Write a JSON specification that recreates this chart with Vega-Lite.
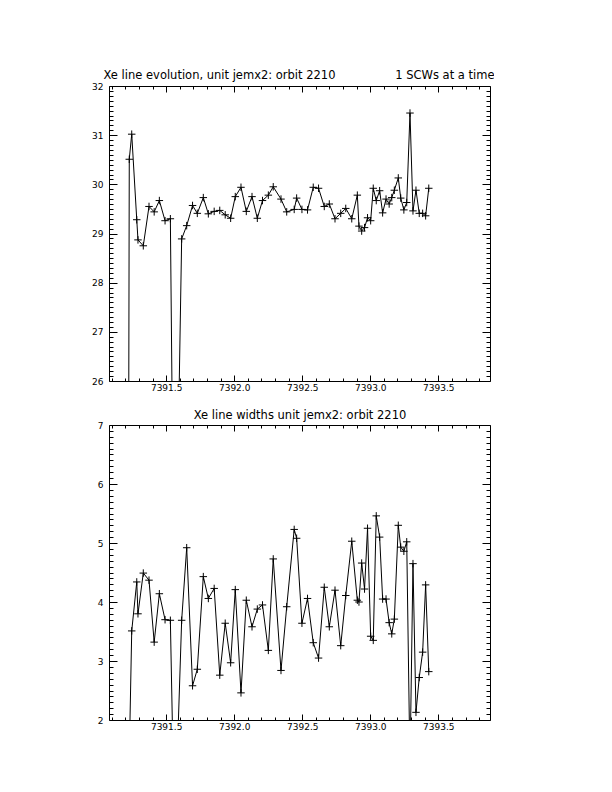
{
  "$schema": "https://vega.github.io/schema/vega-lite/v6.json",
  "background": "white",
  "padding": 0,
  "datasets": {
    "d": [
      {"x": 7391.205, "evo": 0, "wid": 0},
      {"x": 7391.229, "evo": 30.51, "wid": 1.37},
      {"x": 7391.247, "evo": 31.02, "wid": 3.51},
      {"x": 7391.284, "evo": 29.28, "wid": 4.34},
      {"x": 7391.293, "evo": 28.87, "wid": 3.80},
      {"x": 7391.332, "evo": 28.75, "wid": 4.49},
      {"x": 7391.374, "evo": 29.55, "wid": 4.37},
      {"x": 7391.412, "evo": 29.44, "wid": 3.32},
      {"x": 7391.450, "evo": 29.67, "wid": 4.14},
      {"x": 7391.492, "evo": 29.26, "wid": 3.70},
      {"x": 7391.531, "evo": 29.30, "wid": 3.69},
      {"x": 7391.562, "evo": 20.3, "wid": 0},
      {"x": 7391.614, "evo": 28.89, "wid": 3.69},
      {"x": 7391.651, "evo": 29.16, "wid": 4.92},
      {"x": 7391.694, "evo": 29.57, "wid": 2.58},
      {"x": 7391.729, "evo": 29.41, "wid": 2.86},
      {"x": 7391.773, "evo": 29.73, "wid": 4.43},
      {"x": 7391.810, "evo": 29.40, "wid": 4.06},
      {"x": 7391.853, "evo": 29.45, "wid": 4.23},
      {"x": 7391.894, "evo": 29.47, "wid": 2.76},
      {"x": 7391.934, "evo": 29.38, "wid": 3.64},
      {"x": 7391.974, "evo": 29.31, "wid": 2.97},
      {"x": 7392.008, "evo": 29.75, "wid": 4.21},
      {"x": 7392.050, "evo": 29.94, "wid": 2.46},
      {"x": 7392.089, "evo": 29.45, "wid": 4.03},
      {"x": 7392.131, "evo": 29.75, "wid": 3.58},
      {"x": 7392.170, "evo": 29.31, "wid": 3.88},
      {"x": 7392.208, "evo": 29.67, "wid": 3.95},
      {"x": 7392.251, "evo": 29.78, "wid": 3.18},
      {"x": 7392.287, "evo": 29.95, "wid": 4.73},
      {"x": 7392.344, "evo": 29.70, "wid": 2.84},
      {"x": 7392.386, "evo": 29.44, "wid": 3.92},
      {"x": 7392.441, "evo": 29.49, "wid": 5.23},
      {"x": 7392.459, "evo": 29.72, "wid": 5.08},
      {"x": 7392.498, "evo": 29.49, "wid": 3.64},
      {"x": 7392.539, "evo": 29.48, "wid": 4.06},
      {"x": 7392.581, "evo": 29.94, "wid": 3.31},
      {"x": 7392.620, "evo": 29.92, "wid": 3.05},
      {"x": 7392.662, "evo": 29.55, "wid": 4.25},
      {"x": 7392.699, "evo": 29.60, "wid": 3.58},
      {"x": 7392.741, "evo": 29.30, "wid": 4.20},
      {"x": 7392.783, "evo": 29.41, "wid": 3.26},
      {"x": 7392.820, "evo": 29.51, "wid": 4.11},
      {"x": 7392.864, "evo": 29.30, "wid": 5.03},
      {"x": 7392.905, "evo": 29.78, "wid": 4.03},
      {"x": 7392.917, "evo": 29.15, "wid": 4.00},
      {"x": 7392.937, "evo": 29.05, "wid": 4.66},
      {"x": 7392.958, "evo": 29.12, "wid": 4.22},
      {"x": 7392.980, "evo": 29.32, "wid": 5.25},
      {"x": 7393.003, "evo": 29.26, "wid": 3.42},
      {"x": 7393.022, "evo": 29.92, "wid": 3.35},
      {"x": 7393.044, "evo": 29.67, "wid": 5.46},
      {"x": 7393.069, "evo": 29.87, "wid": 5.10},
      {"x": 7393.091, "evo": 29.42, "wid": 4.05},
      {"x": 7393.116, "evo": 29.70, "wid": 4.05},
      {"x": 7393.139, "evo": 29.60, "wid": 3.65},
      {"x": 7393.158, "evo": 29.73, "wid": 3.46},
      {"x": 7393.177, "evo": 29.88, "wid": 3.71},
      {"x": 7393.206, "evo": 30.13, "wid": 5.30},
      {"x": 7393.224, "evo": 29.72, "wid": 4.93},
      {"x": 7393.247, "evo": 29.48, "wid": 4.86},
      {"x": 7393.268, "evo": 29.63, "wid": 5.02},
      {"x": 7393.292, "evo": 31.45, "wid": 1.2},
      {"x": 7393.314, "evo": 29.46, "wid": 4.65},
      {"x": 7393.336, "evo": 29.88, "wid": 2.13},
      {"x": 7393.360, "evo": 29.41, "wid": 2.72},
      {"x": 7393.385, "evo": 29.41, "wid": 3.15},
      {"x": 7393.407, "evo": 29.36, "wid": 4.29},
      {"x": 7393.430, "evo": 29.92, "wid": 2.82}
    ]
  },
  "vconcat": [
    {
      "width": 381,
      "height": 295,
      "data": {"name": "d"},
      "layer": [
        {
          "mark": {"type": "line", "color": "black", "strokeWidth": 1, "clip": true},
          "encoding": {
            "x": {"field": "x", "type": "quantitative", "scale": {"domain": [7391.08, 7393.88], "nice": false, "zero": false},
              "axis": {"orient": "bottom", "values": [7391.5, 7392, 7392.5, 7393, 7393.5], "format": ".1f", "tickSize": -6, "labelPadding": 8.5, "title": null, "labelOverlap": false, "labelFlush": false}},
            "y": {"field": "evo", "type": "quantitative", "scale": {"domain": [26, 32], "nice": false, "zero": false},
              "axis": {"orient": "left", "values": [26, 27, 28, 29, 30, 31, 32], "format": "d", "tickSize": -8, "labelPadding": 14, "title": null, "labelOverlap": false, "labelFlush": false}}
          }
        },
        {
          "mark": {"type": "point", "shape": "M-1,0L1,0M0,-1L0,1", "size": 56, "filled": false, "color": "black", "strokeWidth": 1, "opacity": 1, "clip": true},
          "encoding": {
            "x": {"field": "x", "type": "quantitative", "scale": {"domain": [7391.08, 7393.88], "nice": false, "zero": false},
              "axis": {"orient": "top", "values": [7391.5, 7392, 7392.5, 7393, 7393.5], "labels": false, "tickSize": -6,
                "title": "Xe line evolution, unit jemx2: orbit 2210", "titleX": -6, "titleY": -7.5, "titleAlign": "left", "titleBaseline": "alphabetic", "titleAngle": 0}},
            "y": {"field": "evo", "type": "quantitative", "scale": {"domain": [26, 32], "nice": false, "zero": false},
              "axis": {"orient": "right", "values": [26, 27, 28, 29, 30, 31, 32], "labels": false, "tickSize": -8, "title": null}}
          }
        },
        {
          "mark": {"type": "point", "opacity": 0, "clip": true},
          "encoding": {
            "x": {"field": "x", "type": "quantitative", "scale": {"domain": [7391.08, 7393.88], "nice": false, "zero": false},
              "axis": {"orient": "bottom", "values": [7391.1, 7391.2, 7391.3, 7391.4, 7391.6, 7391.7, 7391.8, 7391.9, 7392.1, 7392.2, 7392.3, 7392.4, 7392.6, 7392.7, 7392.8, 7392.9, 7393.1, 7393.2, 7393.3, 7393.4, 7393.6, 7393.7, 7393.8], "labels": false, "domain": false, "tickSize": -3, "title": null}},
            "y": {"field": "evo", "type": "quantitative", "scale": {"domain": [26, 32], "nice": false, "zero": false},
              "axis": {"orient": "left", "values": [26.1, 26.2, 26.3, 26.4, 26.5, 26.6, 26.7, 26.8, 26.9, 27.1, 27.2, 27.3, 27.4, 27.5, 27.6, 27.7, 27.8, 27.9, 28.1, 28.2, 28.3, 28.4, 28.5, 28.6, 28.7, 28.8, 28.9, 29.1, 29.2, 29.3, 29.4, 29.5, 29.6, 29.7, 29.8, 29.9, 30.1, 30.2, 30.3, 30.4, 30.5, 30.6, 30.7, 30.8, 30.9, 31.1, 31.2, 31.3, 31.4, 31.5, 31.6, 31.7, 31.8, 31.9], "labels": false, "domain": false, "tickSize": -4,
                "title": ".", "titleX": -109, "titleY": -85.5, "titleAlign": "left", "titleBaseline": "top", "titleAngle": 0, "titleOpacity": 0}}
          }
        },
        {
          "mark": {"type": "point", "opacity": 0, "clip": true},
          "encoding": {
            "x": {"field": "x", "type": "quantitative", "scale": {"domain": [7391.08, 7393.88], "nice": false, "zero": false},
              "axis": {"orient": "top", "values": [7391.1, 7391.2, 7391.3, 7391.4, 7391.6, 7391.7, 7391.8, 7391.9, 7392.1, 7392.2, 7392.3, 7392.4, 7392.6, 7392.7, 7392.8, 7392.9, 7393.1, 7393.2, 7393.3, 7393.4, 7393.6, 7393.7, 7393.8], "labels": false, "domain": false, "tickSize": -3,
                "title": "1 SCWs at a time", "titleX": 385, "titleY": -7.5, "titleAlign": "right", "titleBaseline": "alphabetic", "titleAngle": 0}},
            "y": {"field": "evo", "type": "quantitative", "scale": {"domain": [26, 32], "nice": false, "zero": false},
              "axis": {"orient": "right", "values": [26.1, 26.2, 26.3, 26.4, 26.5, 26.6, 26.7, 26.8, 26.9, 27.1, 27.2, 27.3, 27.4, 27.5, 27.6, 27.7, 27.8, 27.9, 28.1, 28.2, 28.3, 28.4, 28.5, 28.6, 28.7, 28.8, 28.9, 29.1, 29.2, 29.3, 29.4, 29.5, 29.6, 29.7, 29.8, 29.9, 30.1, 30.2, 30.3, 30.4, 30.5, 30.6, 30.7, 30.8, 30.9, 31.1, 31.2, 31.3, 31.4, 31.5, 31.6, 31.7, 31.8, 31.9], "labels": false, "domain": false, "tickSize": -4, "title": null}}
          }
        }
      ],
      "resolve": {"axis": {"x": "independent", "y": "independent"}}
    },
    {
      "width": 381,
      "height": 295,
      "data": {"name": "d"},
      "layer": [
        {
          "mark": {"type": "line", "color": "black", "strokeWidth": 1, "clip": true},
          "encoding": {
            "x": {"field": "x", "type": "quantitative", "scale": {"domain": [7391.08, 7393.88], "nice": false, "zero": false},
              "axis": {"orient": "bottom", "values": [7391.5, 7392, 7392.5, 7393, 7393.5], "format": ".1f", "tickSize": -6, "labelPadding": 8.5, "title": null, "labelOverlap": false, "labelFlush": false}},
            "y": {"field": "wid", "type": "quantitative", "scale": {"domain": [2, 7], "nice": false, "zero": false},
              "axis": {"orient": "left", "values": [2, 3, 4, 5, 6, 7], "format": "d", "tickSize": -8, "labelPadding": 14, "title": null, "labelOverlap": false, "labelFlush": false}}
          }
        },
        {
          "mark": {"type": "point", "shape": "M-1,0L1,0M0,-1L0,1", "size": 56, "filled": false, "color": "black", "strokeWidth": 1, "opacity": 1, "clip": true},
          "encoding": {
            "x": {"field": "x", "type": "quantitative", "scale": {"domain": [7391.08, 7393.88], "nice": false, "zero": false},
              "axis": {"orient": "top", "values": [7391.5, 7392, 7392.5, 7393, 7393.5], "labels": false, "tickSize": -6,
                "title": "Xe line widths unit jemx2: orbit 2210", "titleX": 190.5, "titleY": -7, "titleAlign": "center", "titleBaseline": "alphabetic", "titleAngle": 0}},
            "y": {"field": "wid", "type": "quantitative", "scale": {"domain": [2, 7], "nice": false, "zero": false},
              "axis": {"orient": "right", "values": [2, 3, 4, 5, 6, 7], "labels": false, "tickSize": -8, "title": null}}
          }
        },
        {
          "mark": {"type": "point", "opacity": 0, "clip": true},
          "encoding": {
            "x": {"field": "x", "type": "quantitative", "scale": {"domain": [7391.08, 7393.88], "nice": false, "zero": false},
              "axis": {"orient": "bottom", "values": [7391.1, 7391.2, 7391.3, 7391.4, 7391.6, 7391.7, 7391.8, 7391.9, 7392.1, 7392.2, 7392.3, 7392.4, 7392.6, 7392.7, 7392.8, 7392.9, 7393.1, 7393.2, 7393.3, 7393.4, 7393.6, 7393.7, 7393.8], "labels": false, "domain": false, "tickSize": -3, "title": null}},
            "y": {"field": "wid", "type": "quantitative", "scale": {"domain": [2, 7], "nice": false, "zero": false},
              "axis": {"orient": "left", "values": [2.1, 2.2, 2.3, 2.4, 2.5, 2.6, 2.7, 2.8, 2.9, 3.1, 3.2, 3.3, 3.4, 3.5, 3.6, 3.7, 3.8, 3.9, 4.1, 4.2, 4.3, 4.4, 4.5, 4.6, 4.7, 4.8, 4.9, 5.1, 5.2, 5.3, 5.4, 5.5, 5.6, 5.7, 5.8, 5.9, 6.1, 6.2, 6.3, 6.4, 6.5, 6.6, 6.7, 6.8, 6.9], "labels": false, "domain": false, "tickSize": -4, "title": null}}
          }
        },
        {
          "mark": {"type": "point", "opacity": 0, "clip": true},
          "encoding": {
            "x": {"field": "x", "type": "quantitative", "scale": {"domain": [7391.08, 7393.88], "nice": false, "zero": false},
              "axis": {"orient": "top", "values": [7391.1, 7391.2, 7391.3, 7391.4, 7391.6, 7391.7, 7391.8, 7391.9, 7392.1, 7392.2, 7392.3, 7392.4, 7392.6, 7392.7, 7392.8, 7392.9, 7393.1, 7393.2, 7393.3, 7393.4, 7393.6, 7393.7, 7393.8], "labels": false, "domain": false, "tickSize": -3, "title": null}},
            "y": {"field": "wid", "type": "quantitative", "scale": {"domain": [2, 7], "nice": false, "zero": false},
              "axis": {"orient": "right", "values": [2.1, 2.2, 2.3, 2.4, 2.5, 2.6, 2.7, 2.8, 2.9, 3.1, 3.2, 3.3, 3.4, 3.5, 3.6, 3.7, 3.8, 3.9, 4.1, 4.2, 4.3, 4.4, 4.5, 4.6, 4.7, 4.8, 4.9, 5.1, 5.2, 5.3, 5.4, 5.5, 5.6, 5.7, 5.8, 5.9, 6.1, 6.2, 6.3, 6.4, 6.5, 6.6, 6.7, 6.8, 6.9], "labels": false, "domain": false, "tickSize": -4, "title": null}}
          }
        }
      ],
      "resolve": {"axis": {"x": "independent", "y": "independent"}}
    }
  ],
  "spacing": 44,
  "bounds": "flush",
  "config": {
    "view": {"stroke": null},
    "axis": {
      "grid": false,
      "labelFont": "DejaVu Sans",
      "labelFontSize": 9,
      "labelColor": "black",
      "titleFont": "DejaVu Sans",
      "titleFontSize": 11.5,
      "titleFontWeight": "normal",
      "titleColor": "black",
      "domainColor": "black",
      "domainWidth": 1,
      "tickColor": "black",
      "tickWidth": 1
    }
  }
}
